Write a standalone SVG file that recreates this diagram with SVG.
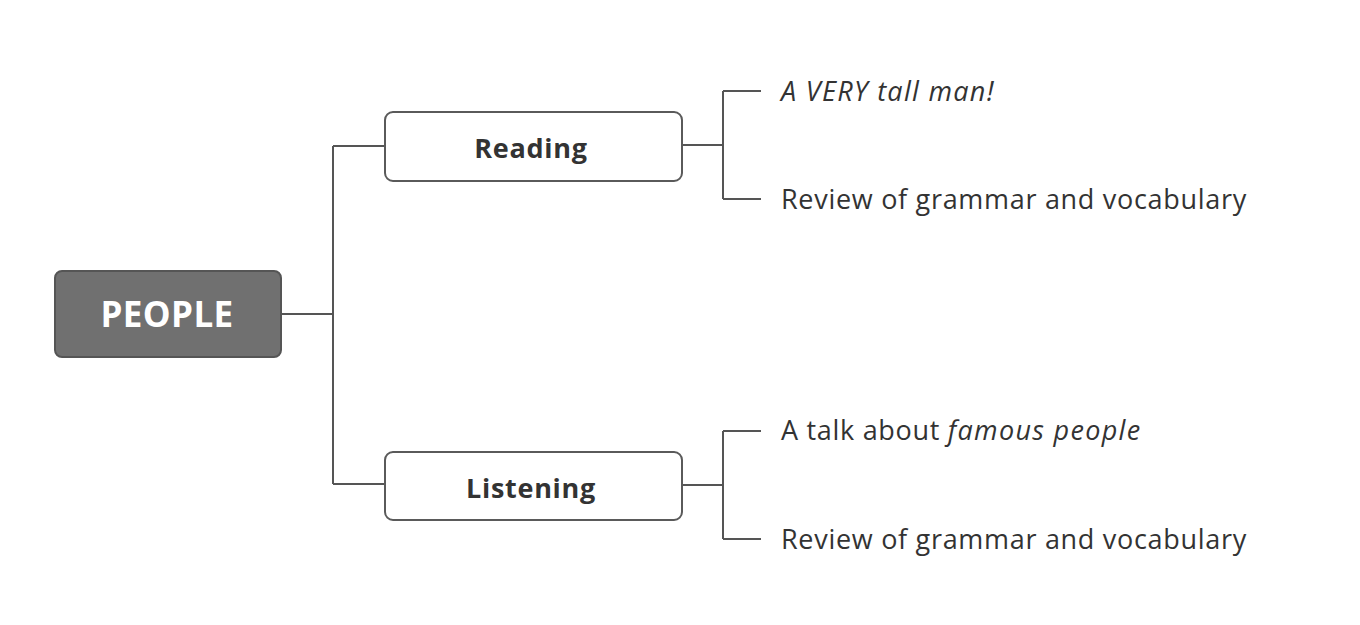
<svg xmlns="http://www.w3.org/2000/svg" width="1360" height="625" viewBox="0 0 1360 625">
<style>
.box{fill:#ffffff;stroke:#5a5a5a;stroke-width:2}
.root{fill:#707070;stroke:#555555;stroke-width:2}
.conn{fill:none;stroke:#555555;stroke-width:2}
.t{font-family:"Open Sans","Noto Sans",sans-serif;fill:#333333}
.lbl{font-size:27px;font-weight:bold;text-anchor:middle;letter-spacing:0.7px}
.leaf{font-size:27px;letter-spacing:0.7px}
.it{font-style:italic;letter-spacing:1.3px}
</style>
<rect width="1360" height="625" fill="#ffffff"/>
<g id="connectors">
<path class="conn" d="M281,314 H333 M333,146 V484 M333,146 H385 M333,484 H385"/>
<path class="conn" d="M682,145 H723 M723,91 V199 M723,91 H761 M723,199 H761"/>
<path class="conn" d="M682,485 H723 M723,431 V539 M723,431 H761 M723,539 H761"/>
</g>
<g id="people">
<rect class="root" x="55" y="271" width="226" height="86" rx="7"/>
<text class="t" x="167" y="327" font-size="35" font-weight="bold" text-anchor="middle" letter-spacing="0.4" style="fill:#ffffff">PEOPLE</text>
</g>
<g id="reading">
<rect class="box" x="385" y="112" width="297" height="69" rx="8"/>
<text class="t lbl" x="531" y="158">Reading</text>
</g>
<g id="listening">
<rect class="box" x="385" y="452" width="297" height="68" rx="8"/>
<text class="t lbl" x="531" y="498">Listening</text>
</g>
<g id="tall-man">
<text class="t leaf it" x="781" y="101">A VERY tall man!</text>
</g>
<g id="review1">
<text class="t leaf" x="781" y="209">Review of grammar and vocabulary</text>
</g>
<g id="talk">
<text class="t leaf" x="781" y="440">A talk about <tspan class="it">famous people</tspan></text>
</g>
<g id="review2">
<text class="t leaf" x="781" y="549">Review of grammar and vocabulary</text>
</g>
</svg>
